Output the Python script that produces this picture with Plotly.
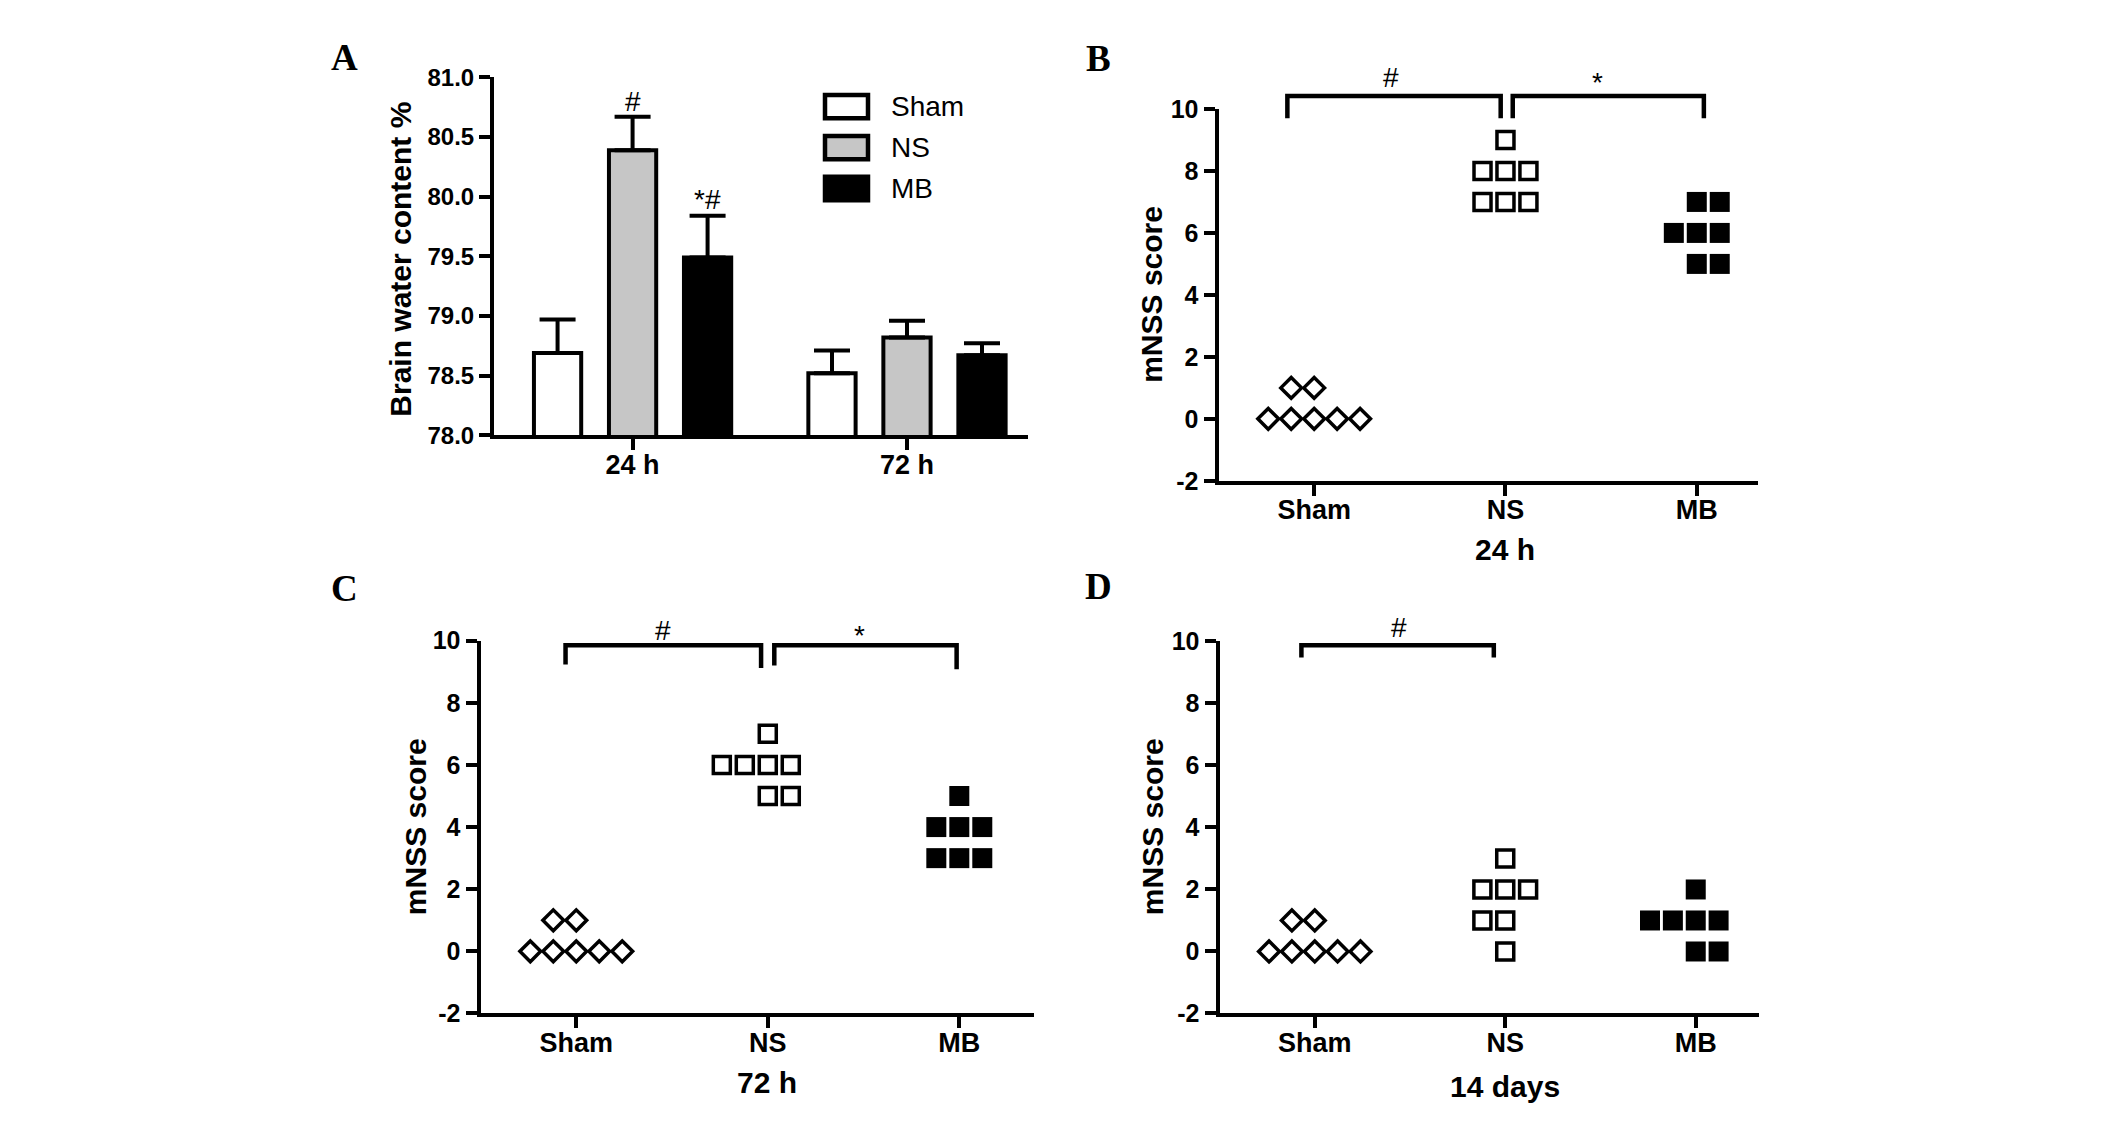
import plotly.graph_objects as go

W, H = 2126, 1121

# ---- panel A: brain water content, mean + SEM ----
GROUPS = ['Sham', 'NS', 'MB']
TIMES_A = ['24 h', '72 h']
WATER_SHAM = [78.69, 78.52]
WATER_NS = [80.39, 78.82]
WATER_MB = [79.49, 78.67]
SEM_SHAM = [0.28, 0.19]
SEM_NS = [0.28, 0.14]
SEM_MB = [0.35, 0.10]
WATER_TICKS = [78.0, 78.5, 79.0, 79.5, 80.0, 80.5, 81.0]

# ---- panels B-D: mNSS scores per rat ----
MNSS_24H_SHAM = [0, 0, 0, 0, 0, 1, 1]
MNSS_24H_NS = [9, 8, 8, 8, 7, 7, 7]
MNSS_24H_MB = [7, 7, 6, 6, 6, 5, 5]
MNSS_72H_SHAM = [0, 0, 0, 0, 0, 1, 1]
MNSS_72H_NS = [7, 6, 6, 6, 6, 5, 5]
MNSS_72H_MB = [5, 4, 4, 4, 3, 3, 3]
MNSS_14D_SHAM = [0, 0, 0, 0, 0, 1, 1]
MNSS_14D_NS = [3, 2, 2, 2, 1, 1, 0]
MNSS_14D_MB = [2, 1, 1, 1, 1, 0, 0]
MNSS_TICKS = [-2, 0, 2, 4, 6, 8, 10]

BLACK = 'black'
GREY = '#c6c6c6'
SANS = 'Liberation Sans, Arial, sans-serif'
SERIF = 'Liberation Serif, Times New Roman, serif'


def px_x(p):
    return p / W


def px_y(p):
    return 1 - p / H


def spread(scores, right_rows, step=0.12):
    # column scatter: points with equal score sit side by side
    xs, ys = [], []
    for v in sorted(set(scores), reverse=True):
        n = scores.count(v)
        start = -(n - 1) / 2
        if n % 2 == 0:
            start += 0.5 if v in right_rows else -0.5
        for k in range(n):
            xs.append((start + k) * step)
            ys.append(v)
    return xs, ys


# panel boxes in pixels: (x0, x1, ytop, ybottom)
BOX = {
    'A': (494, 1028, 65, 432),
    'B': (1218.5, 1758, 97.4, 478.8),
    'C': (480.5, 1034, 642.7, 1025.1),
    'D': (1219.5, 1758.6, 643.5, 1025.1),
}

fig = go.Figure()

# ---- A: bars ----
bar_styles = {'Sham': 'white', 'NS': GREY, 'MB': BLACK}
water = {'Sham': WATER_SHAM, 'NS': WATER_NS, 'MB': WATER_MB}
sem = {'Sham': SEM_SHAM, 'NS': SEM_NS, 'MB': SEM_MB}
for g in GROUPS:
    fig.add_trace(go.Bar(
        x=list(range(len(TIMES_A))), y=water[g], name=g,
        marker=dict(color=bar_styles[g], line=dict(color=BLACK, width=4)),
        error_y=dict(type='data', array=sem[g], arrayminus=[0] * len(sem[g]),
                     symmetric=False, color=BLACK, thickness=4, width=18),
        xaxis='x', yaxis='y', showlegend=False,
    ))

BARGAP = 0.18
slot = (1 - BARGAP) / len(GROUPS)

# ---- B-D: scatter columns ----
panels = [
    ('B', 'x2', 'y2', [MNSS_24H_SHAM, MNSS_24H_NS, MNSS_24H_MB], [set(), set(), {7, 5}]),
    ('C', 'x3', 'y3', [MNSS_72H_SHAM, MNSS_72H_NS, MNSS_72H_MB], [set(), {5}, set()]),
    ('D', 'x4', 'y4', [MNSS_14D_SHAM, MNSS_14D_NS, MNSS_14D_MB], [set(), set(), {0}]),
]
marker_styles = [
    dict(symbol='diamond-open', size=16, color=BLACK, line=dict(width=3.5, color=BLACK)),
    dict(symbol='square-open', size=17, color=BLACK, line=dict(width=3.5, color=BLACK)),
    dict(symbol='square', size=20, color=BLACK, line=dict(width=0)),
]
for key, xa, ya, groups, leans in panels:
    for i, scores in enumerate(groups):
        xs, ys = spread(scores, leans[i])
        fig.add_trace(go.Scatter(
            x=[i + dx for dx in xs], y=ys, mode='markers',
            marker=marker_styles[i], xaxis=xa, yaxis=ya,
            showlegend=False, cliponaxis=False,
        ))

axis_common = dict(showline=True, linecolor=BLACK, linewidth=4, ticks='outside',
                   ticklen=11, tickwidth=3.5, tickcolor=BLACK, showgrid=False,
                   zeroline=False, fixedrange=True)
xtick_font = dict(family=SANS, size=27, color=BLACK, weight='bold')

layout = dict(
    width=W, height=H, margin=dict(l=0, r=0, t=0, b=0),
    paper_bgcolor='white', plot_bgcolor='white',
    barmode='group', bargap=BARGAP, bargroupgap=0.37, showlegend=False,
)

ranges = {'A': [78, 81], 'B': [-2, 10], 'C': [-2, 10], 'D': [-2, 10]}
xranges = {'A': [-0.505, 1.441], 'B': [-0.5, 2.32], 'C': [-0.5, 2.39], 'D': [-0.5, 2.33]}
names = {'A': ('xaxis', 'yaxis', 'x', 'y'), 'B': ('xaxis2', 'yaxis2', 'x2', 'y2'),
         'C': ('xaxis3', 'yaxis3', 'x3', 'y3'), 'D': ('xaxis4', 'yaxis4', 'x4', 'y4')}
for key, (xn, yn, xr, yr) in names.items():
    x0, x1, yt, yb = BOX[key]
    if key == 'A':
        tv, tt = list(range(len(TIMES_A))), TIMES_A
        yt_vals, yt_text = WATER_TICKS, ['%.1f' % v for v in WATER_TICKS]
        ysize = 24
    else:
        tv, tt = [0, 1, 2], GROUPS
        yt_vals, yt_text = MNSS_TICKS, [str(v) for v in MNSS_TICKS]
        ysize = 25
    layout[xn] = dict(axis_common, domain=[px_x(x0), px_x(x1)], range=xranges[key],
                      tickvals=tv, ticktext=tt, tickfont=xtick_font, anchor=yr,
                      ticklabelstandoff=-9)
    layout[yn] = dict(axis_common, domain=[px_y(yb), px_y(yt)], range=ranges[key],
                      tickvals=yt_vals, ticktext=yt_text, anchor=xr,
                      tickfont=dict(family=SANS, size=ysize, color=BLACK, weight='bold'))

fig.update_layout(**layout)


def data_to_paper(key, v):
    x0, x1, yt, yb = BOX[key]
    r0, r1 = ranges[key]
    return px_y(yb) + (v - r0) / (r1 - r0) * (px_y(yt) - px_y(yb))


def label(x, y, text, xref='paper', yref='paper', **kw):
    kw.setdefault('font', dict(family=SANS, size=28, color=BLACK))
    fig.add_annotation(x=x, y=y, xref=xref, yref=yref, text=text, showarrow=False,
                       xanchor=kw.pop('xanchor', 'center'), yanchor='middle', **kw)


# significance brackets: (x_left, x_right, top, end_left, end_right, label, label_x, label_y)
BRACKETS = {
    'B': [(-0.14, 0.975, 10.42, 9.70, 9.70, '#', 0.40, 11.02),
          (1.038, 2.037, 10.42, 9.70, 9.70, '*', 1.48, 10.85)],
    'C': [(-0.056, 0.965, 9.85, 9.23, 9.12, '#', 0.454, 10.34),
          (1.034, 1.986, 9.85, 9.20, 9.08, '*', 1.48, 10.15)],
    'D': [(-0.07, 0.94, 9.88, 9.48, 9.48, '#', 0.44, 10.45)],
}
for key, items in BRACKETS.items():
    xr = names[key][2]
    for xl, xrt, top, el, er, lab, lx, ly in items:
        path = 'M %f,%f L %f,%f L %f,%f L %f,%f' % (
            xl, data_to_paper(key, el), xl, data_to_paper(key, top),
            xrt, data_to_paper(key, top), xrt, data_to_paper(key, er))
        fig.add_shape(type='path', path=path, xref=xr, yref='paper',
                      line=dict(color=BLACK, width=4.5))
        label(lx, data_to_paper(key, ly), lab, xref=xr)

# panel A significance marks above bars
label(0, 80.80, '#', xref='x', yref='y')
label(slot, 79.98, '*#', xref='x', yref='y')

# panel A legend
for i, g in enumerate(GROUPS):
    top = 83 + i * 42
    fig.add_shape(type='rect', xref='paper', yref='paper',
                  x0=px_x(825), x1=px_x(868), y0=px_y(top + 24), y1=px_y(top),
                  fillcolor=bar_styles[g], line=dict(color=BLACK, width=4.5))
    label(px_x(889), px_y(top + 12), g, xanchor='left')

# axis titles
title_font = dict(family=SANS, size=30, color=BLACK, weight='bold')
Y_TITLES = [('Brain water content %', 401, 252), ('mNSS score', 1152, 288),
            ('mNSS score', 415, 834), ('mNSS score', 1152, 834)]
for txt, x, y in Y_TITLES:
    label(px_x(x), px_y(y), txt, textangle=-90, font=title_font)
X_TITLES = [('24 h', 1505, 549), ('72 h', 767, 1096), ('14 days', 1505, 1100)]
for txt, x, y in X_TITLES:
    label(px_x(x), px_y(y), txt, font=title_font)

# panel letters
for lab, x, y in [('A', 344, 45), ('B', 1098, 46), ('C', 344, 589), ('D', 1098, 587)]:
    label(px_x(x), px_y(y), lab, font=dict(family=SERIF, size=37, color=BLACK, weight='bold'))

fig.write_html('out.html', config={'displayModeBar': False},
               post_script="document.body.style.margin='0';")
